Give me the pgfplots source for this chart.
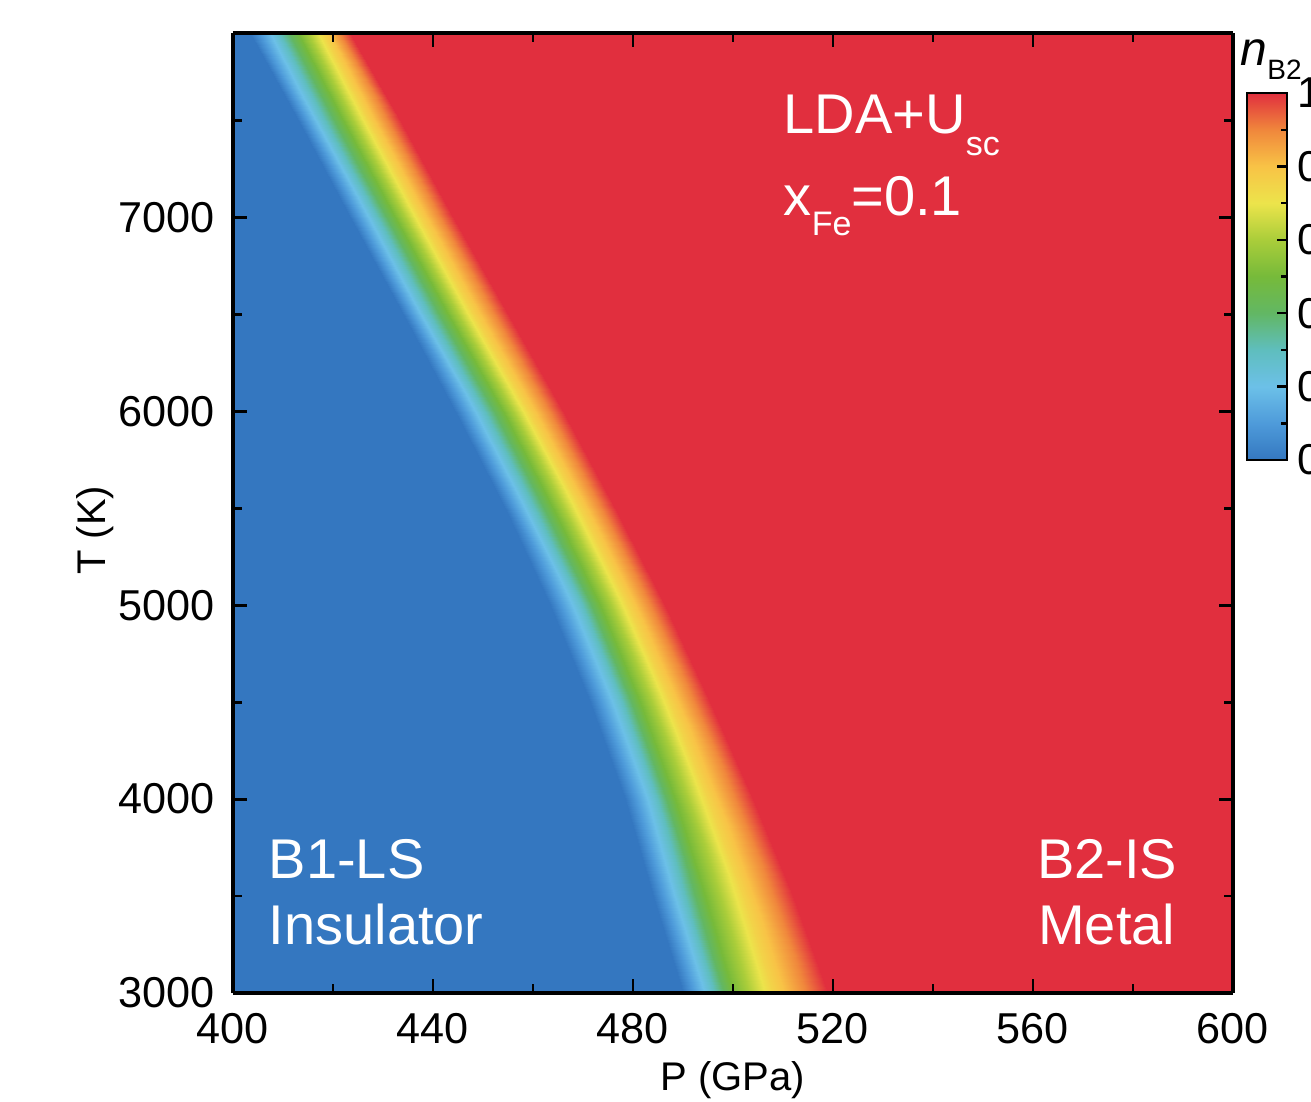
\documentclass[border=0pt]{standalone}
\usepackage{pgfplots}
\pgfplotsset{compat=1.18}
\usepackage{fontspec}
\setmainfont{Liberation Sans}

\newcommand{\tickfont}{\fontsize{10.8}{12}\selectfont}
\newcommand{\annfont}{\fontsize{14}{16}\selectfont}
\newcommand{\subfont}{\fontsize{8.5}{10}\selectfont}

\pgfplotsset{
  /pgf/number format/assume math mode=true,
  /pgf/number format/1000 sep={},
  colormap={nbtwo}{
    rgb255=(52,119,192) rgb255=(78,155,218) rgb255=(108,192,232)
    rgb255=(95,190,190) rgb255=(98,183,100) rgb255=(118,186,58)
    rgb255=(170,205,58) rgb255=(236,228,75) rgb255=(248,195,70)
    rgb255=(240,135,60) rgb255=(225,47,62)
  },
}

\begin{document}
\begin{tikzpicture}
\begin{axis}[
  name=ax,
  scale only axis,
  width=250pt, height=240pt,
  view={0}{90},
  xmin=400, xmax=600, ymin=3000, ymax=7950,
  xtick={400,440,...,600}, minor xtick={420,460,...,580},
  ytick={3000,4000,...,7000}, minor ytick={3500,4500,...,7500},
  xtick pos=both, ytick pos=both,
  tick align=inside,
  major tick length=3.6pt, minor tick length=2.2pt,
  every tick/.style={black, line width=0.7pt},
  axis line style={black, line width=0.8pt},
  ticklabel style={font=\tickfont},
  xticklabel style={inner sep=0pt, yshift=-4.8pt},
  yticklabel style={inner sep=0pt, xshift=-4.5pt},
  xlabel={P (GPa)}, ylabel={T (K)},
  label style={font=\tickfont},
  every axis x label/.style={at={(axis description cs:0.5,0)}, anchor=center, yshift=-21.75pt},
  every axis y label/.style={at={(axis description cs:0,0.482)}, xshift=-34.5pt, anchor=center, rotate=90},
  colormap name=nbtwo,
  point meta min=0, point meta max=1,
  colorbar,
  colorbar style={
    at={(parent axis.north east)}, anchor=north west,
    xshift=-5.04pt, yshift=-15pt,
    width=10pt, height=91.75pt,
    ytick={0,0.2,0.4,0.6,0.8,1},
    minor ytick={0.1,0.3,0.5,0.7,0.9},
    ytick pos=right, yticklabel pos=right,
    tick align=inside,
    major tick length=2.5pt, minor tick length=1.5pt,
    every tick/.style={black, line width=0.6pt},
    axis line style={black, line width=0.6pt},
    yticklabel style={font=\tickfont, inner sep=0pt, xshift=2.5pt},
  },
]
% n_B2 across the B1/B2 boundary: each row of constant T holds
% the pressures where n_B2 = 0, 0.25, 0.5, 0.75 and 1
\addplot3[surf, shader=interp, mesh/cols=7] table {
x y z
400 3000 0
490 3000 0
495.5 3000 0.25
500 3000 0.5
508 3000 0.75
519 3000 1
600 3000 1
400 3500 0
484 3500 0
489.5 3500 0.25
494.5 3500 0.5
502 3500 0.75
512 3500 1
600 3500 1
400 4000 0
478.5 4000 0
484 4000 0.25
488.5 4000 0.5
495 4000 0.75
504 4000 1
600 4000 1
400 4500 0
471.5 4500 0
477 4500 0.25
481.5 4500 0.5
487.5 4500 0.75
495.5 4500 1
600 4500 1
400 5000 0
463.5 5000 0
469 5000 0.25
473.5 5000 0.5
479 5000 0.75
486.5 5000 1
600 5000 1
400 5500 0
454.5 5500 0
459.5 5500 0.25
464 5500 0.5
469.5 5500 0.75
476.5 5500 1
600 5500 1
400 6000 0
444.5 6000 0
449.5 6000 0.25
454 6000 0.5
459 6000 0.75
466 6000 1
600 6000 1
400 6500 0
434 6500 0
438.5 6500 0.25
443 6500 0.5
448 6500 0.75
455 6500 1
600 6500 1
400 7000 0
423.5 7000 0
428 7000 0.25
432.5 7000 0.5
437.5 7000 0.75
444 7000 1
600 7000 1
400 7500 0
413 7500 0
417.5 7500 0.25
422 7500 0.5
427 7500 0.75
433.5 7500 1
600 7500 1
400 7950 0
403.5 7950 0
408.5 7950 0.25
413 7950 0.5
418 7950 0.75
423.5 7950 1
600 7950 1
};
\end{axis}

% annotations
\node[anchor=base west, inner sep=0pt, text=white, font=\annfont]
  at ([shift={(137.5pt,215pt)}]ax.south west)
  {LDA+U\raisebox{-5.5pt}{\subfont sc}};
\node[anchor=base west, inner sep=0pt, text=white, font=\annfont]
  at ([shift={(137.5pt,194.5pt)}]ax.south west)
  {x\raisebox{-5pt}{\subfont Fe}=0.1};
\node[anchor=base west, inner sep=0pt, text=white, font=\annfont]
  at ([shift={(8.75pt,28.75pt)}]ax.south west) {B1-LS};
\node[anchor=base west, inner sep=0pt, text=white, font=\annfont]
  at ([shift={(8.75pt,12.25pt)}]ax.south west) {Insulator};
\node[anchor=base east, inner sep=0pt, text=white, font=\annfont]
  at ([shift={(236.25pt,28.75pt)}]ax.south west) {B2-IS};
\node[anchor=base east, inner sep=0pt, text=white, font=\annfont]
  at ([shift={(235.75pt,12.25pt)}]ax.south west) {Metal};

% colorbar title
\node[anchor=base west, inner sep=0pt, font=\tickfont]
  at ([shift={(1.75pt,-8pt)}]ax.north east)
  {\fontsize{12}{14}\selectfont\itshape n\upshape\raisebox{-3.5pt}{\fontsize{7}{8}\selectfont B2}};

\pgfresetboundingbox
\path[use as bounding box] ([shift={(-58.25pt,-27pt)}]ax.south west)
  rectangle ([shift={(19.5pt,8.25pt)}]ax.north east);
\end{tikzpicture}
\end{document}
